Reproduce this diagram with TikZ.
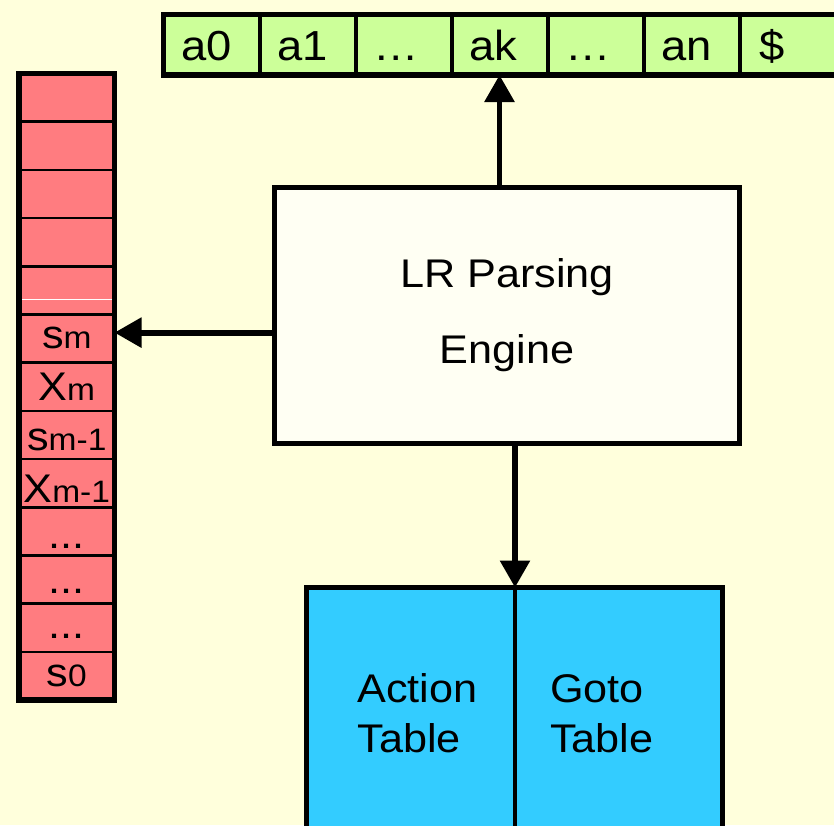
\documentclass[tikz,border=0pt]{standalone}
\usepackage{fontspec}
\setmainfont{Liberation Sans}[FakeStretch=1.08]
\usetikzlibrary{positioning,arrows.meta}

\definecolor{bgyellow}{RGB}{255,255,220}
\definecolor{enginewhite}{RGB}{255,255,243}
\definecolor{tapegreen}{RGB}{204,255,153}
\definecolor{stackred}{RGB}{255,124,128}
\definecolor{tableblue}{RGB}{51,204,255}

\newcommand{\stacksym}[3]{\raisebox{#1}{\fontsize{20}{20}\selectfont #2\fontsize{15.5}{16}\selectfont #3}}

\tikzset{
	tapecell/.style={draw, line width=2pt, fill=tapegreen, minimum width=48pt, minimum height=30.35pt,
		inner xsep=8.9pt, inner ysep=0pt, outer sep=0pt, text width=30.2pt, align=left,
		text height=16.3pt, text depth=0pt, font=\fontsize{21}{21}\selectfont},
	stackcell/.style={draw, line width=1.3pt, fill=stackred, minimum width=47.75pt, minimum height=24.1pt,
		inner sep=0pt, outer sep=0pt, text height=14pt, text depth=0pt},
	engine/.style={draw, line width=2.8pt, fill=enginewhite, minimum width=232.5pt, minimum height=128pt,
		align=center, font=\fontsize{20}{38}\selectfont},
	tablecell/.style={draw, line width=2pt, fill=tableblue, minimum height=125.8pt, inner ysep=0pt,
		outer sep=0pt, align=left, font=\fontsize{20}{25}\selectfont},
	thickframe/.style={line width=2.8pt},
	arr/.style={line width=2.9pt, -{Triangle[length=13.5pt, width=14.5pt]}}
}

\begin{document}
\begin{tikzpicture}[x=0.5pt, y=-0.5pt]
	\path[use as bounding box, fill=bgyellow] (0,0) rectangle (834,825);
	\clip (0,0) rectangle (834,825);

	\node[tapecell, anchor=north west] (t1) at (163.5,14.3) {a0};
	\node[tapecell, right=0pt of t1] (t2) {a1};
	\node[tapecell, right=0pt of t2] (t3) {…};
	\node[tapecell, right=0pt of t3] (t4) {ak};
	\node[tapecell, right=0pt of t4] (t5) {…};
	\node[tapecell, right=0pt of t5] (t6) {an};
	\node[tapecell, right=0pt of t6, minimum width=50pt] (t7) {\$};
	\draw[thickframe] (t1.north west) rectangle (t7.south east);

	\node[stackcell, anchor=north west] (stk1) at (19,73.5) {};
	\node[stackcell, below=0pt of stk1] (stk2) {};
	\node[stackcell, below=0pt of stk2] (stk3) {};
	\node[stackcell, below=0pt of stk3] (stk4) {};
	\node[stackcell, below=0pt of stk4] (stk5) {};
	\node[stackcell, below=0pt of stk5] (stk6) {\stacksym{2.15pt}{s}{m}};
	\node[stackcell, below=0pt of stk6] (stk7) {\stacksym{0.4pt}{X}{m}};
	\node[stackcell, below=0pt of stk7] (stk8) {\stacksym{-0.5pt}{s}{m-1}};
	\node[stackcell, below=0pt of stk8] (stk9) {\stacksym{-2.75pt}{X}{m-1}};
	\node[stackcell, below=0pt of stk9] (stk10) {\stacksym{-1.3pt}{...}{}};
	\node[stackcell, below=0pt of stk10] (stk11) {\stacksym{0.3pt}{...}{}};
	\node[stackcell, below=0pt of stk11] (stk12) {\stacksym{1.9pt}{...}{}};
	\node[stackcell, below=0pt of stk12] (stk13) {\stacksym{1.65pt}{s}{0}};
	\draw[white, line width=0.5pt] ([yshift=7.75pt]stk5.south west) -- ([yshift=7.75pt]stk5.south east);
	\draw[thickframe] (stk1.north west) rectangle (stk13.south east);

	\node[engine] (engine) at (507,315.5) {LR Parsing\\Engine};

	\node[tablecell, anchor=north west, inner xsep=25.5pt, text width=53.25pt] (action) at (306.5,587.5) {Action\\Table};
	\node[tablecell, right=0pt of action, inner xsep=17.5pt, text width=68.75pt] (goto) {Goto\\Table};
	\draw[thickframe] (action.north west) rectangle (goto.south east);

	\draw[arr] (engine.north -| t4.south) -- (t4.south);
	\draw[arr] ([yshift=3pt]engine.west |- stk6.east) -- ([yshift=3pt]stk6.east);
	\draw[arr] (engine.south -| action.north east) -- (action.north east);
\end{tikzpicture}
\end{document}
